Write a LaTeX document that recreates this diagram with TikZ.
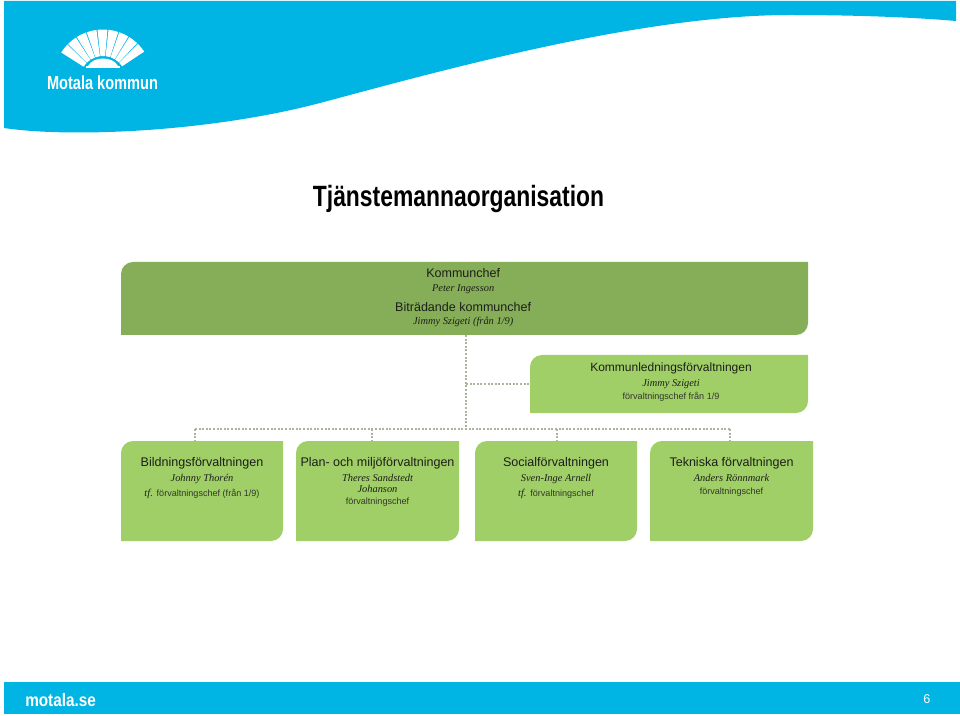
\documentclass[tikz,border=0pt]{standalone}
\usepackage{fontspec}
\usepackage{tikz}
\setmainfont{Liberation Sans}
\newfontfamily\namefont{Liberation Serif}
\usetikzlibrary{positioning}
\definecolor{headblue}{HTML}{00B4E4}
\definecolor{chiefgreen}{HTML}{86AE58}
\definecolor{deptgreen}{HTML}{A0CE67}
\definecolor{linkgrey}{HTML}{ABB59E}
\definecolor{inkblack}{HTML}{1C1F18}
\definecolor{inkgrey}{HTML}{33382C}
\newcommand{\orgtitle}[1]{{\fontsize{9.4}{11.25}\selectfont #1}}
\newcommand{\orgname}[1]{{\namefont\itshape\fontsize{7.8}{11.25}\selectfont #1}}
\newcommand{\orgrole}[1]{{\color{inkgrey}\fontsize{6.8}{11.25}\selectfont #1}}
\tikzset{orgbox/.style = {minimum width=#1*0.75pt, inner sep=0pt, outer sep=0pt},
         orgshape/.style = {path picture={
           \fill [#1] ([yshift=-9pt]path picture bounding box.north west)
             to [out=90, in=180] ([xshift=9pt]path picture bounding box.north west)
             -- (path picture bounding box.north east)
             -- ([yshift=9pt]path picture bounding box.south east)
             to [out=-90, in=0] ([xshift=-9pt]path picture bounding box.south east)
             -- (path picture bounding box.south west) -- cycle;}},
         orgtext/.style = {align=center, inner sep=0pt, text=inkblack,
                           font=\fontsize{7.8}{11.25}\selectfont},
         orglink/.style = {linkgrey, line width=1.5pt, dash pattern=on 1.5pt off 1.2pt},
         brandtext/.style = {text=white, inner sep=0pt, font=\bfseries}}

\begin{document}
\begin{tikzpicture}[x=0.75pt,y=-0.75pt]
    \useasboundingbox (0, 0) rectangle (960, 716);
    % band and footer
    \fill [headblue] (4, 1) -- (956, 1) -- (956, 21)
      .. controls (910, 17) and (850, 15) .. (790, 15)
      .. controls (640, 15) and (440, 71) .. (320, 103)
      .. controls (210, 132) and (70, 138) .. (4, 128) -- cycle;
    \fill [headblue] (4, 682) rectangle (960, 714);
    % logo
    \foreach \a in {33, 45.8, ..., 136} {
      \fill [white] ({103+23*cos(\a+0.6)}, {79-23*sin(\a+0.6)})
        -- ({103+49.5*cos(\a+0.6)}, {79-49.5*sin(\a+0.6)})
        -- ({103+49.5*cos(\a+6.4)}, {79-49.5*sin(\a+6.4)})
        -- ({103+49.5*cos(\a+12.2)}, {79-49.5*sin(\a+12.2)})
        -- ({103+23*cos(\a+12.2)}, {79-23*sin(\a+12.2)}) -- cycle;
    }
    \fill [white] (88, 66) .. controls (93, 56) and (113, 56) .. (118, 66) -- cycle;
    \fill [white] (86, 66.5) rectangle (120, 68);
    \node (brand) [brandtext, anchor=base] at (102.5, 90)
      {\scalebox{0.77}[1]{\fontsize{14.2}{16}\selectfont Motala kommun}};
    \node (site) [brandtext, anchor=base west] at (25, 706)
      {\scalebox{0.85}[1]{\fontsize{13.5}{16}\selectfont motala.se}};
    \node (pageno) [anchor=base, inner sep=0pt, text=white, font=\fontsize{9.5}{11}\selectfont] at (927, 703) {6};
    \node (heading) [anchor=base, inner sep=0pt, text=black, font=\bfseries] at (458.5, 207)
      {\scalebox{0.78}[1]{\fontsize{22}{24}\selectfont Tjänstemannaorganisation}};
    % boxes
    \node (chief) [orgbox=687, minimum height=54.75pt, orgshape=chiefgreen] at (464.5, 298.5) {};
    \node (lead) [orgbox=278, minimum height=43.5pt, orgshape=deptgreen] at (669, 384) {};
    \node (bild) [orgbox=162, minimum height=75pt, orgshape=deptgreen] at (202, 491) {};
    \node (plan) [orgbox=163, minimum height=75pt, orgshape=deptgreen] at (377.5, 491) {};
    \node (soc) [orgbox=162, minimum height=75pt, orgshape=deptgreen] at (556, 491) {};
    \node (tek) [orgbox=163, minimum height=75pt, orgshape=deptgreen] at (731.5, 491) {};
    % box texts
    \node (chieftext) [orgtext, below=4.6pt of chief.north, xshift=-1pt] {\orgtitle{Kommunchef}\\[-0.75pt]
      \orgname{Peter Ingesson}\\[3.75pt]\orgtitle{Biträdande kommunchef}\\[-1.5pt]\orgname{Jimmy Szigeti (från 1/9)}};
    \node (leadtext) [orgtext, below=5.7pt of lead.north, xshift=1.5pt] {{\fontsize{9}{11.25}\selectfont Kommunledningsförvaltningen}\\
      \orgname{Jimmy Szigeti}\\[-1.5pt]\orgrole{förvaltningschef från 1/9}};
    \node (bildtext) [orgtext, below=12.3pt of bild.north] {\orgtitle{Bildningsförvaltningen}\\
      \orgname{Johnny Thorén}\\\orgname{tf.} \orgrole{förvaltningschef (från 1/9)}};
    \node (plantext) [orgtext, below=12.3pt of plan.north] {\orgtitle{Plan- och miljöförvaltningen}\\
      \orgname{Theres Sandstedt}\\[-3pt]\orgname{Johanson}\\[-2.25pt]\orgrole{förvaltningschef}};
    \node (soctext) [orgtext, below=12.3pt of soc.north] {\orgtitle{Socialförvaltningen}\\
      \orgname{Sven-Inge Arnell}\\\orgname{tf.} \orgrole{förvaltningschef}};
    \node (tektext) [orgtext, below=12.3pt of tek.north] {\orgtitle{Tekniska förvaltningen}\\
      \orgname{Anders Rönnmark}\\[-1.5pt]\orgrole{förvaltningschef}};
    % dotted links
    \coordinate (trunk) at (466, 429);
    \coordinate (bildtap) at (195, 429);
    \coordinate (plantap) at (372, 429);
    \coordinate (soctap) at (557, 429);
    \coordinate (tektap) at (730, 429);
    \draw [orglink] (chief.south -| trunk) -- (trunk);
    \draw [orglink] (bildtap) -- (tektap);
    \draw [orglink] (trunk |- lead.west) -- (lead.west);
    \foreach \tap/\dept in {bildtap/bild, plantap/plan, soctap/soc, tektap/tek} {
      \draw [orglink] (\tap) -- (\tap |- \dept.north);
    }
\end{tikzpicture}
\end{document}
